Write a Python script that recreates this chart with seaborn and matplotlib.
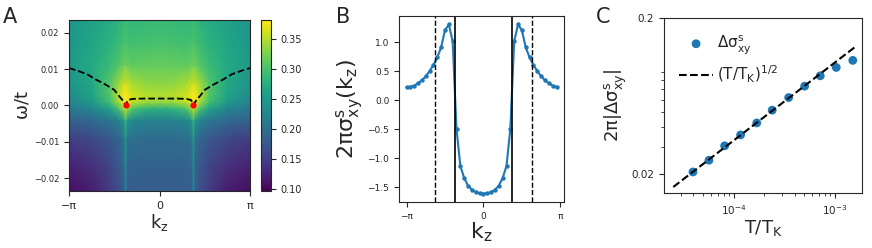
import numpy as np
import matplotlib
matplotlib.use('Agg')
import matplotlib.pyplot as plt
import seaborn as sns
import pandas as pd

sns.set_style('ticks')
plt.rcParams['font.family'] = ['DejaVu Sans']
plt.rcParams['mathtext.default'] = 'regular'

PI = np.pi

# ---- Panel A: spectral map on a coarse (non-uniform) grid ----
# kz in units of pi (negative half, mirrored below), omega in units of t
kz_half = [-1.0, -0.75, -0.55, -0.45, -0.395, -0.375, -0.355, -0.30, -0.15, 0.0]
omega_nodes = [-0.0235, -0.016, -0.009, -0.004, -0.001, 0.001, 0.003, 0.006, 0.011, 0.017, 0.0235]
map_half = [
    [0.108, 0.120, 0.145, 0.165, 0.180, 0.230, 0.180, 0.180, 0.180, 0.180],
    [0.125, 0.138, 0.158, 0.175, 0.190, 0.240, 0.190, 0.188, 0.186, 0.185],
    [0.150, 0.160, 0.175, 0.190, 0.205, 0.255, 0.205, 0.200, 0.198, 0.196],
    [0.185, 0.195, 0.210, 0.225, 0.250, 0.290, 0.250, 0.232, 0.225, 0.222],
    [0.210, 0.225, 0.258, 0.295, 0.335, 0.365, 0.335, 0.300, 0.280, 0.275],
    [0.225, 0.250, 0.295, 0.345, 0.375, 0.382, 0.375, 0.355, 0.340, 0.338],
    [0.235, 0.262, 0.305, 0.352, 0.375, 0.382, 0.375, 0.360, 0.350, 0.348],
    [0.245, 0.268, 0.305, 0.340, 0.358, 0.365, 0.358, 0.345, 0.335, 0.333],
    [0.250, 0.270, 0.290, 0.305, 0.318, 0.324, 0.318, 0.312, 0.314, 0.316],
    [0.248, 0.265, 0.280, 0.290, 0.298, 0.304, 0.298, 0.296, 0.298, 0.300],
    [0.245, 0.260, 0.272, 0.280, 0.287, 0.293, 0.287, 0.285, 0.288, 0.290],
]
# dashed quasiparticle line
dash_kz = [-1.0, -0.9, -0.8, -0.7, -0.6, -0.5, -0.45, -0.40, -0.375, -0.35, -0.30, -0.2, -0.1, 0.0,
           0.1, 0.2, 0.30, 0.35, 0.375, 0.40, 0.45, 0.5, 0.6, 0.7, 0.8, 0.9, 1.0]
dash_omega = [0.0103, 0.0095, 0.0086, 0.0071, 0.0058, 0.0043, 0.0027, 0.0012, 0.0001, 0.0015, 0.0018, 0.0019, 0.0019, 0.0019,
              0.0019, 0.0019, 0.0018, 0.0015, 0.0001, 0.0012, 0.0027, 0.0043, 0.0058, 0.0071, 0.0086, 0.0095, 0.0103]
node_kz = [-0.375, 0.375]
node_omega = [0.0, 0.0]

# ---- Panel B ----
kz_b = [-1.00, -0.95, -0.90, -0.85, -0.80, -0.75, -0.70, -0.65, -0.60, -0.55,
        -0.50, -0.45, -0.40, -0.35, -0.30, -0.25, -0.20, -0.15, -0.10, -0.05,
        0.00, 0.05, 0.10, 0.15, 0.20, 0.25, 0.30, 0.35, 0.40, 0.45,
        0.50, 0.55, 0.60, 0.65, 0.70, 0.75, 0.80, 0.85, 0.90, 0.95]
sigma_b = [0.225, 0.237, 0.254, 0.295, 0.347, 0.415, 0.507, 0.61, 0.74, 0.915,
           1.21, 1.31, 1.02, -0.49, -1.13, -1.34, -1.47, -1.54, -1.585, -1.60,
           -1.607, -1.60, -1.585, -1.54, -1.47, -1.34, -1.13, -0.49, 1.02, 1.31,
           1.21, 0.915, 0.74, 0.61, 0.507, 0.415, 0.347, 0.295, 0.254, 0.237]
solid_kz = [-0.375, 0.375]
dashed_kz = [-0.625, 0.625]

# ---- Panel C ----
T_c = [3.96e-5, 5.70e-5, 8.14e-5, 1.17e-4, 1.69e-4, 2.40e-4, 3.49e-4, 5.02e-4, 7.16e-4, 1.03e-3, 1.50e-3]
dsig_c = [0.0206, 0.0245, 0.0303, 0.0356, 0.0425, 0.0513, 0.0618, 0.0731, 0.0852, 0.0964, 0.107]
T_fit = [2.53e-5, 1.57e-3]
fit_prefactor = 3.28

W, H = 872, 248
fig = plt.figure(figsize=(W / 100, H / 100), dpi=100)

def px_axes(x0, y0, x1, y1):
    return fig.add_axes([x0 / W, 1 - y1 / H, (x1 - x0) / W, (y1 - y0) / H])

# Panel A
axA = px_axes(69, 20, 250, 191)
kz_full = kz_half + [-k for k in kz_half[-2::-1]]
map_full = np.array([row + row[-2::-1] for row in map_half])
KZ, OM = np.meshgrid(np.array(kz_full) * PI, omega_nodes)
mesh = axA.pcolormesh(KZ, OM, map_full, shading='gouraud', cmap='viridis', vmin=0.097, vmax=0.382)
axA.plot(np.array(dash_kz) * PI, dash_omega, 'k--', lw=1.3)
axA.plot(np.array(node_kz) * PI, node_omega, 'o', color='red', ms=4.5, mec='none')
axA.set_xlim(-PI, PI)
axA.set_ylim(-0.0235, 0.0235)
axA.set_xticks([-PI, 0, PI], ['\u2212\u03c0', '0', '\u03c0'])
axA.set_yticks([-0.02, -0.01, 0.0, 0.01, 0.02])
axA.tick_params(axis='x', labelsize=8)
axA.tick_params(axis='y', labelsize=6)
axA.set_xlabel(r'$k_z$', fontsize=13, labelpad=1)
axA.set_ylabel(r'$\omega/t$', fontsize=13, labelpad=2)

cax = px_axes(261, 20, 271, 191)
cb = fig.colorbar(mesh, cax=cax)
cb.set_ticks([0.10, 0.15, 0.20, 0.25, 0.30, 0.35])
cb.ax.set_yticklabels(['0.10', '0.15', '0.20', '0.25', '0.30', '0.35'])
cb.ax.tick_params(labelsize=7)

# Panel B
axB = px_axes(399, 16, 564, 202)
dfB = pd.DataFrame({'kz': np.array(kz_b) * PI, 'sigma': sigma_b})
sns.lineplot(data=dfB, x='kz', y='sigma', ax=axB, marker='o', markersize=3.2,
             markeredgewidth=0, color='#1f77b4', lw=1.5)
for k in solid_kz:
    axB.axvline(k * PI, color='k', lw=1.2)
for k in dashed_kz:
    axB.axvline(k * PI, color='k', lw=1.0, ls='--')
axB.set_xticks([-PI, 0, PI], ['\u2212\u03c0', '0', '\u03c0'])
axB.tick_params(labelsize=6.5)
axB.set_xlabel(r'$k_z$', fontsize=16, labelpad=0)
axB.set_ylabel(r'$2\pi\sigma^{s}_{xy}(k_z)$', fontsize=16, labelpad=1)

# Panel C
axC = px_axes(664, 18, 862, 193)
dfC = pd.DataFrame({'T': T_c, 'dsig': dsig_c})
sns.scatterplot(data=dfC, x='T', y='dsig', ax=axC, s=40, color='#1f77b4', edgecolor='none',
                label=r'$\Delta\sigma^{s}_{xy}$')
axC.plot(T_fit, fit_prefactor * np.sqrt(T_fit), 'k--', lw=1.5, label=r'$(T/T_K)^{1/2}$')
axC.set_xscale('log')
axC.set_yscale('log')
axC.set_xlim(2.05e-5, 1.85e-3)
axC.set_ylim(0.0151, 0.2)
axC.set_yticks([0.02, 0.2], ['0.02', '0.2'])
axC.tick_params(labelsize=7.5)
axC.set_xlabel(r'$T/T_K$', fontsize=13, labelpad=1)
axC.set_ylabel(r'$2\pi|\Delta\sigma^{s}_{xy}|$', fontsize=13, labelpad=2)
axC.legend(frameon=False, loc='upper left', fontsize=11, handlelength=2.2,
           handletextpad=0.3, borderaxespad=0.6)

fig.text(3 / W, 1 - 23 / H, 'A', fontsize=15)
fig.text(336 / W, 1 - 23 / H, 'B', fontsize=15)
fig.text(596 / W, 1 - 23 / H, 'C', fontsize=15)

fig.savefig('out.png', dpi=100)
